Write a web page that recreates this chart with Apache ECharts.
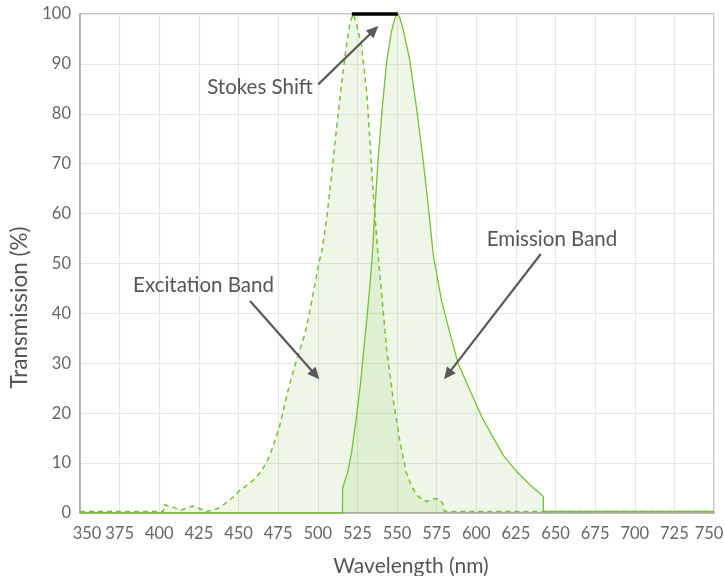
<!DOCTYPE html>
<html>
<head>
<meta charset="utf-8">
<script src="https://cdn.jsdelivr.net/npm/echarts@6/dist/echarts.min.js"></script>
<style>
html,body{margin:0;padding:0;background:#fff;}
#c{width:724px;height:576px;}
</style>
</head>
<body>
<div id="c"></div>
<script>
// Tick labels
const xTicks = [350,375,400,425,450,475,500,525,550,575,600,625,650,675,700,725,750];
const yTicks = [0,10,20,30,40,50,60,70,80,90,100];

// Excitation band (dashed): [wavelength nm, transmission %]
const excitation = [
  [350,0.3],[402.5,0.3],[403,1.7],[408,1.2],[414,0.6],[421,1.4],[426,0.8],[430,0.3],
  [437,0.9],[443,2.2],[447,3.3],[451,4.6],[455,5.5],[459,6.5],[464,8.2],[468,10.3],
  [472,13.5],[476,17.5],[479,21.5],[482,25.5],[486,30],[489,33],[492,36],[495,40.5],
  [498,45.5],[501,50.5],[503,53],[506,60],[509,68.5],[512,77.5],[515,86],[518,93.5],
  [520.5,98.5],[522.5,100],[524,98.5],[527.5,94],[531,84],[533,74],[535,64],[538,52],
  [540.3,44],[543.5,32.7],[547.7,22.6],[552,14],[556,8],[559,5.5],[562.4,3.6],
  [566,2.7],[568.7,2.3],[571,2.6],[574,2.9],[577,2.7],[579,1.8],[580,0.3],[750,0.3]
];

// Emission band (solid)
const emission = [
  [350,0],[515.6,0],[515.7,5],[519,8.3],[521.5,12.5],[524.5,19.5],[527,26],[529,32.7],
  [531,39],[533,46],[534.5,52],[536,60.5],[538,70.5],[540.5,80.5],[543.5,90.5],
  [546.5,96.5],[548.5,99],[550,100],[551.5,99.5],[554,96.8],[558,90.8],[562.5,80.8],
  [566.5,70.7],[570,60.7],[573,51.4],[575,48],[578,42.7],[583,36.5],[588.5,30],
  [596,24.6],[603.5,19.3],[610,15.5],[617,11.6],[625.5,8.3],[634,5.6],[642.3,3.3],
  [642.4,0.3],[750,0.3]
];

// Stokes shift: excitation peak to emission peak
const stokesShift = [[521.5,100],[550.5,100]];

// Annotation texts
const annotations = [
  {text:'Stokes Shift',   at:[463.6,85.2], from:[500.3,85.9], to:[538.2,97.6]},
  {text:'Excitation Band',at:[427.9,45.7], from:[457.3,42.5], to:[501,26.8]},
  {text:'Emission Band',  at:[647.8,54.8], from:[640.7,51.9], to:[579.7,26.8]}
];

const FONT = 'Lato, "Noto Sans", sans-serif';
const GREEN = '#78bf35';
const FILL = 'rgba(120,190,60,0.18)';

const chart = echarts.init(document.getElementById('c'), null, {renderer:'canvas'});
chart.setOption({
  animation:false,
  textStyle:{fontFamily:FONT},
  grid:{left:80, right:10, top:14, bottom:63, outerBoundsMode:'none', containLabel:false,
        show:true, borderColor:'#b4b4b4', borderWidth:1.5, backgroundColor:'transparent'},
  xAxis:{
    type:'value', min:xTicks[0], max:xTicks[xTicks.length-1], interval:25,
    name:'Wavelength (nm)', nameLocation:'middle', nameGap:43,
    nameTextStyle:{fontSize:21, color:'#555', fontFamily:FONT, padding:[0,0,0,28]},
    axisLine:{show:true, lineStyle:{color:'#aaa', width:1.5}},
    axisTick:{show:false},
    axisLabel:{
      fontSize:16.5, color:'#666', margin:12, fontFamily:FONT,
      formatter:function(v){
        if (v === xTicks[0]) return '{first|' + v + '}';
        if (v === xTicks[xTicks.length-1]) return '{last|' + v + '}';
        return String(v);
      },
      rich:{
        first:{fontSize:16.5, color:'#666', fontFamily:FONT, padding:[0,0,0,14]},
        last:{fontSize:16.5, color:'#666', fontFamily:FONT, padding:[0,10,0,0]}
      }
    },
    splitLine:{show:true, lineStyle:{color:'#e6e6e6', width:1.2}}
  },
  yAxis:{
    type:'value', min:yTicks[0], max:yTicks[yTicks.length-1], interval:10,
    name:'Transmission (%)', nameLocation:'middle', nameGap:47,
    nameTextStyle:{fontSize:22.5, color:'#555', fontFamily:FONT, padding:[0,88,0,0]},
    axisLine:{show:true, lineStyle:{color:'#aaa', width:1.5}},
    axisTick:{show:false},
    axisLabel:{fontSize:16.5, color:'#666', margin:9, fontFamily:FONT},
    splitLine:{show:true, lineStyle:{color:'#e6e6e6', width:1.2}}
  },
  series:[
    {
      name:'Excitation', type:'line', data:excitation, showSymbol:false, symbol:'none',
      lineStyle:{color:GREEN, width:1.5, type:[5,4]},
      areaStyle:{color:FILL, origin:'start'}, z:3
    },
    {
      name:'Emission', type:'line', data:emission, showSymbol:false, symbol:'none',
      lineStyle:{color:GREEN, width:1.3},
      areaStyle:{color:FILL, origin:'start'}, z:4
    },
    {
      name:'Stokes', type:'line', data:stokesShift, showSymbol:false, symbol:'none',
      lineStyle:{color:'#000', width:3.5}, clip:false, z:6
    }
  ]
});

function arrow(p0, p1){
  const dx = p1[0]-p0[0], dy = p1[1]-p0[1];
  const len = Math.sqrt(dx*dx+dy*dy);
  const ux = dx/len, uy = dy/len;
  const hl = 12, hw = 5.5;
  const bx = p1[0]-ux*hl, by = p1[1]-uy*hl;
  return [
    {type:'line', shape:{x1:p0[0], y1:p0[1], x2:bx+ux*2, y2:by+uy*2}, style:{stroke:'#595959', lineWidth:2.2}, z:10},
    {type:'polygon', shape:{points:[[p1[0],p1[1]],[bx-uy*hw, by+ux*hw],[bx+uy*hw, by-ux*hw]]}, style:{fill:'#595959'}, z:10}
  ];
}

const g = [];
annotations.forEach(a => {
  const t = chart.convertToPixel({gridIndex:0}, a.at);
  const f = chart.convertToPixel({gridIndex:0}, a.from);
  const e = chart.convertToPixel({gridIndex:0}, a.to);
  g.push({type:'text', x:t[0], y:t[1], style:{text:a.text, fill:'#555', font:'20.5px ' + FONT, align:'center', verticalAlign:'middle'}, z:10});
  arrow(f, e).forEach(x => g.push(x));
});
chart.setOption({graphic:g});
</script>
</body>
</html>
